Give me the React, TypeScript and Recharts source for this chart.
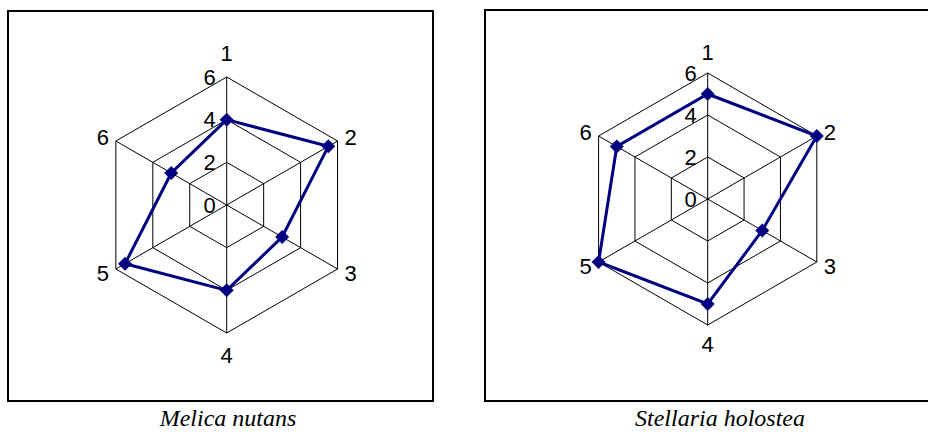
import React from 'react';
import { RadarChart, Radar, PolarGrid, PolarAngleAxis, PolarRadiusAxis } from 'recharts';

const AXES = ['1', '2', '3', '4', '5', '6'];
const MELICA = [4, 5.5, 3, 4, 5.5, 3];
const STELLARIA = [5, 6, 3, 5, 6, 5];
const RADIUS_TICKS = [0, 2, 4, 6];

const NAVY = '#000080';
const SANS = '"Liberation Sans", Arial, sans-serif';
const SERIF = '"Liberation Serif", "Times New Roman", serif';

const Diamond = (props: any) => {
  const { cx, cy } = props;
  if (cx == null || cy == null) return <g />;
  const s = 7;
  return <path d={`M${cx},${cy - s}L${cx + s},${cy}L${cx},${cy + s}L${cx - s},${cy}Z`} fill={NAVY} stroke="none" />;
};

const makeAngleTick = (cy: number, topGap: number, bottomGap: number) => (props: any) => {
  const { x, y, payload, textAnchor } = props;
  let ty = y;
  if (textAnchor === 'middle') ty = y < cy ? y - topGap : y + bottomGap;
  return (
    <text x={x} y={ty} textAnchor={textAnchor} dominantBaseline="central" fontFamily={SANS} fontSize={22} fill="#000">
      {payload.value}
    </text>
  );
};

const RadiusTick = (props: any) => {
  const { x, y, payload } = props;
  return (
    <text x={x - 11} y={y} textAnchor="end" dominantBaseline="central" fontFamily={SANS} fontSize={22} fill="#000">
      {payload.value}
    </text>
  );
};

interface SpiderProps {
  values: number[];
  cx: number;
  cy: number;
  radius: number;
  topGap: number;
  bottomGap: number;
}

const Spider: React.FC<SpiderProps> = ({ values, cx, cy, radius, topGap, bottomGap }) => {
  const data = AXES.map((a, i) => ({ axis: a, value: values[i] }));
  return (
    <RadarChart width={460} height={400} data={data} cx={cx} cy={cy} outerRadius={radius}
      margin={{ top: 0, right: 0, bottom: 0, left: 0 }}>
      <PolarGrid gridType="polygon" stroke="#000" strokeWidth={1} />
      <PolarAngleAxis dataKey="axis" tick={makeAngleTick(cy, topGap, bottomGap)} axisLine={false} tickLine={false} />
      <PolarRadiusAxis angle={90} domain={[0, 6]} ticks={RADIUS_TICKS} tickCount={4} axisLine={false}
        tickLine={false} tick={RadiusTick} />
      <Radar dataKey="value" stroke={NAVY} strokeWidth={3} fill="none" fillOpacity={0}
        dot={Diamond} isAnimationActive={false} />
    </RadarChart>
  );
};

const box = (left: number, top: number, width: number, height: number): React.CSSProperties => ({
  position: 'absolute', left, top, width, height, border: '2px solid #000', boxSizing: 'border-box',
});

const caption = (center: number): React.CSSProperties => ({
  position: 'absolute', left: center - 150, width: 300, top: 405, textAlign: 'center',
  fontFamily: SERIF, fontStyle: 'italic', fontSize: 24, color: '#000', lineHeight: 'normal',
});

export default function App() {
  return (
    <div style={{ position: 'absolute', left: 0, top: 0, width: 928, height: 432, background: '#fff' }}>
      <div style={box(7, 10, 427, 392)} />
      <div style={box(484, 9, 446, 393)} />
      <div style={{ position: 'absolute', left: 0, top: 0 }}>
        <Spider values={MELICA} cx={226.7} cy={205} radius={128} topGap={16} bottomGap={14} />
      </div>
      <div style={{ position: 'absolute', left: 470, top: 0 }}>
        <Spider values={STELLARIA} cx={237.7} cy={199} radius={126} topGap={13} bottomGap={11} />
      </div>
      <div style={caption(228)}>Melica nutans</div>
      <div style={caption(720)}>Stellaria holostea</div>
    </div>
  );
}
